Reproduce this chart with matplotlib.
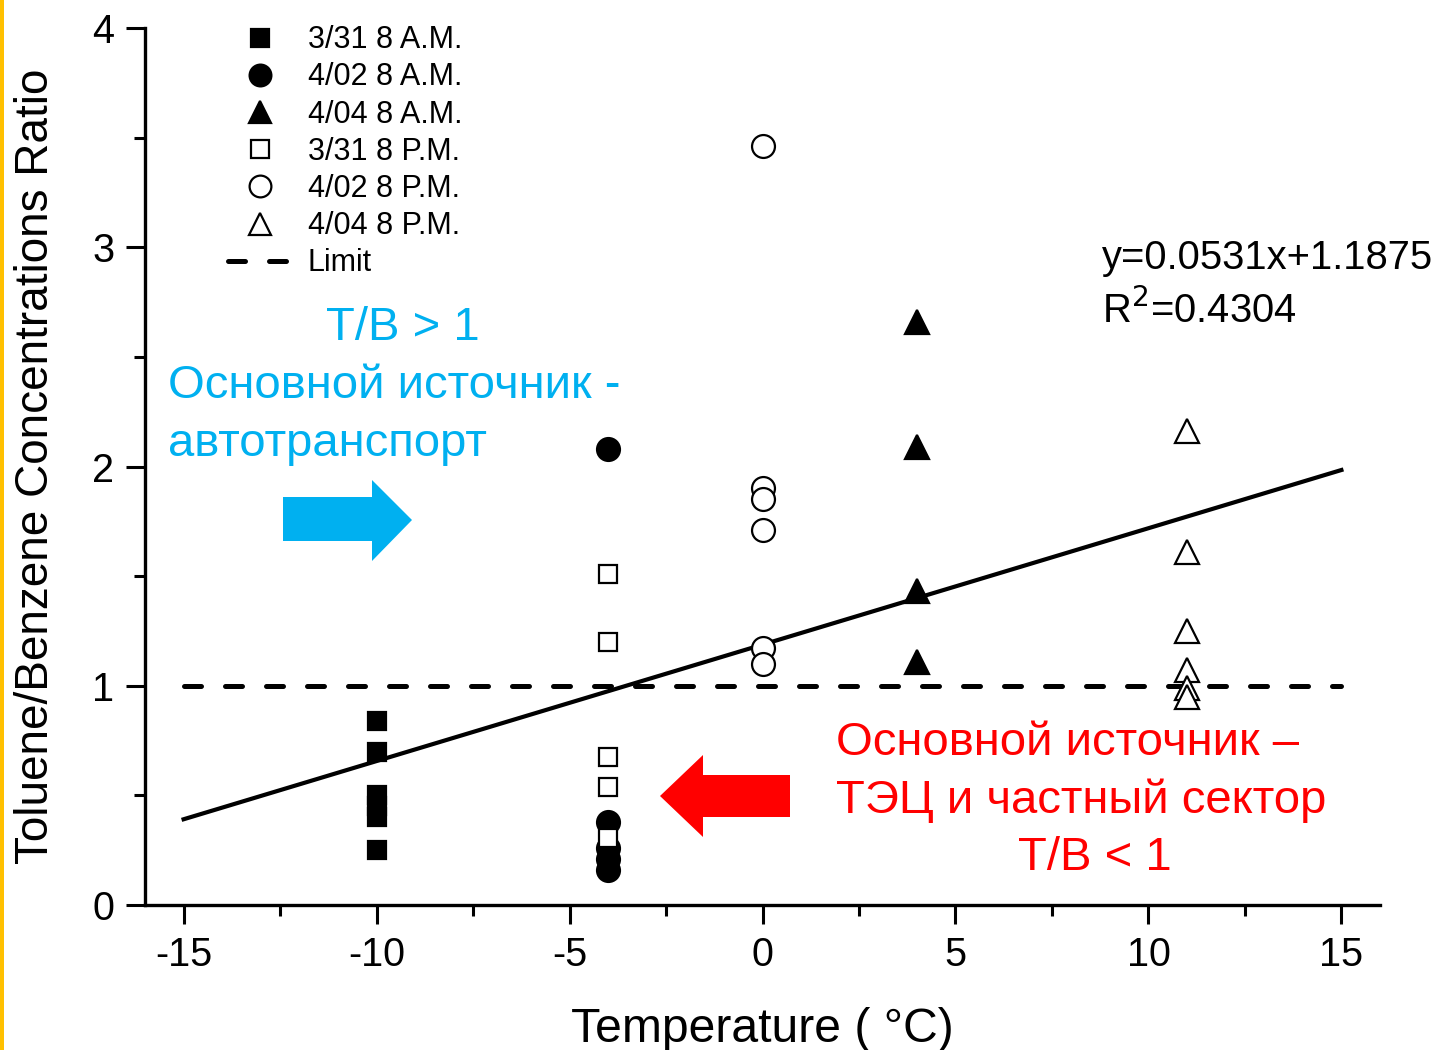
import matplotlib
matplotlib.use("Agg")
import matplotlib.pyplot as plt
from matplotlib.lines import Line2D
from matplotlib.patches import Polygon, Rectangle
import numpy as np

# ---- data ----
x_331am = [-10, -10, -10, -10, -10, -10]
y_331am = [0.84, 0.70, 0.50, 0.45, 0.40, 0.25]
x_402am = [-4, -4, -4, -4, -4]
y_402am = [2.08, 0.38, 0.26, 0.21, 0.16]
x_404am = [4, 4, 4, 4]
y_404am = [2.66, 2.09, 1.43, 1.11]
x_331pm = [-4, -4, -4, -4, -4]
y_331pm = [1.51, 1.20, 0.675, 0.54, 0.305]
x_402pm = [0, 0, 0, 0, 0, 0]
y_402pm = [3.46, 1.90, 1.85, 1.71, 1.17, 1.10]
x_404pm = [11, 11, 11, 11, 11, 11]
y_404pm = [2.16, 1.61, 1.25, 1.07, 0.99, 0.95]
labels = ["3/31 8 A.M.", "4/02 8 A.M.", "4/04 8 A.M.",
          "3/31 8 P.M.", "4/02 8 P.M.", "4/04 8 P.M."]
fit_slope = 0.0531
fit_intercept = 1.1875
fit_range = [-15, 15]
limit_value = 1.0
limit_range = [-15, 15]
xticks = [-15, -10, -5, 0, 5, 10, 15]
yticks = [0, 1, 2, 3, 4]

plt.rcParams['font.family'] = ['Liberation Sans', 'DejaVu Sans']

fig = plt.figure(figsize=(14.41, 10.5), dpi=100)
ax = fig.add_axes([145/1441, 1-905/1050, (1380-145)/1441, (905-28)/1050])

ax.set_xlim(-16, 16)
ax.set_ylim(0, 4)

# fit line and limit
xf = np.array(fit_range, dtype=float)
ax.plot(xf, fit_slope*xf + fit_intercept, color='black', lw=3.0, zorder=2)
ax.plot(limit_range, [limit_value, limit_value], color='black', lw=3.6,
        dashes=(3.4, 4.8), dash_capstyle='round', zorder=2)

sq = 13.5; ci = 16.5; tr = 17
series = [
    (x_331am, y_331am, 's', 'black', sq),
    (x_402am, y_402am, 'o', 'black', ci),
    (x_404am, y_404am, '^', 'black', tr),
    (x_331pm, y_331pm, 's', 'white', sq),
    (x_402pm, y_402pm, 'o', 'white', ci),
    (x_404pm, y_404pm, '^', 'white', tr),
]
handles = []
for (xs, ys, m, fc, ms), lab in zip(series, labels):
    ax.plot(xs, ys, linestyle='none', marker=m, markersize=ms, markerfacecolor=fc,
            markeredgecolor='black', markeredgewidth=1.6, zorder=3)
    handles.append(Line2D([], [], linestyle='none', marker=m, markersize=ms*0.95,
                          markerfacecolor=fc, markeredgecolor='black',
                          markeredgewidth=1.6, label=lab))
handles.append(Line2D([], [], color='black', lw=3.6, dashes=(3.4, 4.8),
                      dash_capstyle='round', label='Limit'))

leg = ax.legend(handles=handles, loc='upper left', bbox_to_anchor=(0.0575, 1.017),
                frameon=False, fontsize=22, handlelength=2.1, handletextpad=0.5,
                labelspacing=0.235, borderaxespad=0)

# spines / ticks
for s in ['top', 'right']:
    ax.spines[s].set_visible(False)
for s in ['left', 'bottom']:
    ax.spines[s].set_linewidth(2.4)
ax.set_xticks(xticks)
ax.set_yticks(yticks)
ax.set_xticks(np.arange(-15, 15.1, 2.5), minor=True)
ax.set_yticks(np.arange(0, 4.01, 0.5), minor=True)
ax.tick_params(which='major', direction='out', length=14, width=2.2, labelsize=28.5, pad=8)
ax.tick_params(which='minor', direction='out', length=8, width=2.2)
ax.set_xticklabels([str(v) for v in xticks])

ax.set_xlabel('Temperature ( °C)', fontsize=34.7, labelpad=24)
ax.set_ylabel('Toluene/Benzene Concentrations Ratio', fontsize=33)
ax.yaxis.set_label_coords((58-145)/1235, 0.5)

# equation
fig.text(1102/1441, 1-258/1050, 'y=0.0531x+1.1875', fontsize=28.8, va='center', ha='left')
fig.text(1102/1441, 1-310/1050, 'R$^2$=0.4304', fontsize=28.8, va='center', ha='left')

blue = '#00B0F0'
red = '#FF0000'
fig.text(403/1441, 1-328/1050, 'T/B > 1', fontsize=34, color=blue, ha='center', va='center')
fig.text(168/1441, 1-386/1050, 'Основной источник -', fontsize=34, color=blue, ha='left', va='center')
fig.text(168/1441, 1-444/1050, 'автотранспорт', fontsize=34, color=blue, ha='left', va='center')

fig.text(836/1441, 1-743/1050, 'Основной источник –', fontsize=34, color=red,
         ha='left', va='center')
fig.text(836/1441, 1-801/1050, 'ТЭЦ и частный сектор', fontsize=34, color=red,
         ha='left', va='center')
fig.text(1095/1441, 1-858/1050, 'T/B < 1', fontsize=34, color=red,
         ha='center', va='center')

def px(pts):
    return [(x/1441, 1-y/1050) for x, y in pts]

blue_arrow = px([(283, 497), (372, 497), (372, 480), (412, 520), (372, 561), (372, 541), (283, 541)])
red_arrow = px([(790, 775), (703, 775), (703, 755), (660, 796), (703, 837), (703, 817), (790, 817)])
fig.patches.append(Polygon(blue_arrow, closed=True, transform=fig.transFigure,
                           facecolor=blue, edgecolor='none'))
fig.patches.append(Polygon(red_arrow, closed=True, transform=fig.transFigure,
                           facecolor=red, edgecolor='none'))
fig.patches.append(Rectangle((0, 0), 4/1441, 1, transform=fig.transFigure,
                             facecolor='#FFC000', edgecolor='none'))

fig.savefig('out.png', dpi=100)
